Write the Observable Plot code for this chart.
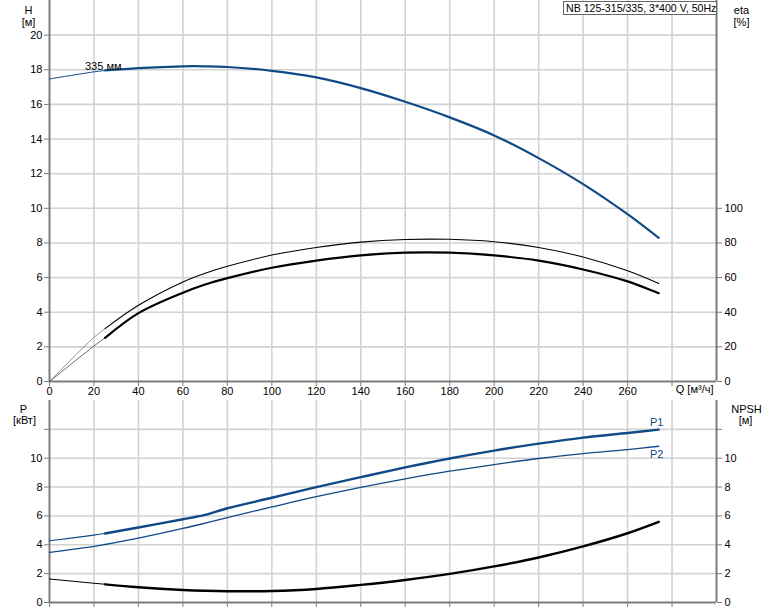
<!DOCTYPE html>
<html>
<head>
<meta charset="utf-8">
<script src="https://cdn.jsdelivr.net/npm/d3@7"></script>
<script src="https://cdn.jsdelivr.net/npm/@observablehq/plot@0.6"></script>
<style>
  html, body { margin: 0; padding: 0; background: #fff; }
  #wrap { position: relative; width: 774px; font-family: "Liberation Sans", Arial, sans-serif; }
  #wrap svg { display: block; }
  #legend {
    position: absolute; left: 563px; top: 1px; width: 150px; height: 12px;
    border: 1px solid #666; background: #fff; font-size: 10.6px; line-height: 12px;
    padding: 0 0 0 2px; white-space: nowrap; color: #000;
  }
</style>
</head>
<body>
<div id="wrap"></div>
<script>
// ---- data ----
const qValues   = [0, 20, 25, 40, 60, 70, 80, 100, 120, 140, 160, 180, 200, 220, 240, 260, 274];
const headH     = [17.47, 17.88, 17.96, 18.1, 18.2, 18.2, 18.16, 17.94, 17.56, 16.94, 16.15, 15.25, 14.21, 12.9, 11.4, 9.66, 8.29];
const etaPump   = [0, 25.5, 30.5, 44, 57.5, 62.5, 66.5, 73, 77.4, 80.5, 82, 82.1, 80.7, 77.4, 71.9, 63.9, 56.6];
const etaTotal  = [0, 20.5, 25.2, 39.5, 51.3, 56, 59.7, 65.7, 69.8, 72.8, 74.4, 74.4, 72.8, 69.8, 64.7, 57.8, 51];
const powerP1   = [4.28, 4.67, 4.78, 5.2, 5.77, 6.07, 6.53, 7.26, 8.0, 8.69, 9.36, 9.98, 10.53, 11.01, 11.43, 11.75, 11.98];
const powerP2   = [3.47, 3.89, 4.02, 4.46, 5.13, 5.5, 5.89, 6.62, 7.33, 7.98, 8.57, 9.1, 9.56, 9.98, 10.32, 10.6, 10.83];
const npshValues= [1.63, 1.33, 1.26, 1.06, 0.87, 0.81, 0.78, 0.8, 0.94, 1.22, 1.56, 1.98, 2.5, 3.12, 3.89, 4.8, 5.59];

const qTicks   = [0, 20, 40, 60, 80, 100, 120, 140, 160, 180, 200, 220, 240, 260, 280];
const hTicks   = [0, 2, 4, 6, 8, 10, 12, 14, 16, 18, 20];
const etaTicks = [0, 20, 40, 60, 80, 100];
const pTicks   = [0, 2, 4, 6, 8, 10, 12];
const pLabeled = [0, 2, 4, 6, 8, 10];

const title = "NB 125-315/335, 3*400 V, 50Hz";
const curveLabel = "335 мм";

// ---- build rows ----
const rows = qValues.map((q, i) => ({
  q, h: headH[i], ep: etaPump[i], et: etaTotal[i],
  p1: powerP1[i], p2: powerP2[i], npsh: npshValues[i]
}));
const thin = rows.slice(0, 3);
const thick = rows.slice(2);
const last = rows[rows.length - 1];

const BLUE = "#0f4a87";
const GRID = "#d2d2d2";
const AXIS = "#7c7c7c";
const font = "'Liberation Sans', Arial, sans-serif";
const curve = "catmull-rom";

const gridX = d3.range(20, 300, 20);

const topPlot = Plot.plot({
  width: 774, height: 400,
  marginLeft: 49, marginRight: 58, marginTop: 0, marginBottom: 19,
  x: {domain: [0, 300]},
  y: {domain: [0, 22]},
  style: {fontFamily: font, fontSize: "11px", color: "#000", background: "#fff", overflow: "visible"},
  marks: [
    Plot.gridX(gridX, {stroke: GRID, strokeOpacity: 1, strokeWidth: 1.6}),
    Plot.gridY(d3.range(2, 22, 2), {stroke: GRID, strokeOpacity: 1, strokeWidth: 1.6}),
    Plot.ruleY([0], {stroke: AXIS, strokeWidth: 2}),
    Plot.ruleX([0], {stroke: AXIS, strokeWidth: 2}),
    Plot.ruleX([300], {stroke: AXIS, strokeWidth: 2}),
    Plot.axisX({ticks: qTicks, tickSize: 5, tickPadding: 1, stroke: AXIS,
      tickFormat: d => d === 280 ? "" : String(d), label: null}),
    Plot.axisY({anchor: "left", ticks: hTicks, tickSize: 5, tickPadding: 2, stroke: AXIS, label: null}),
    Plot.axisY({anchor: "right", ticks: etaTicks.map(e => e / 10), tickSize: 5, tickPadding: 3, stroke: AXIS,
      tickFormat: d => String(Math.round(d * 10)), label: null}),
    // eta curves (plotted in H units: eta/10)
    Plot.line(thin, {x: "q", y: d => d.ep / 10, stroke: "#666", strokeWidth: 0.7, curve}),
    Plot.line(thin, {x: "q", y: d => d.et / 10, stroke: "#555", strokeWidth: 0.9, curve}),
    Plot.line(thick, {x: "q", y: d => d.ep / 10, stroke: "#000", strokeWidth: 1.1, curve}),
    Plot.line(thick, {x: "q", y: d => d.et / 10, stroke: "#000", strokeWidth: 2.2, curve}),
    // head curve
    Plot.line(thin, {x: "q", y: "h", stroke: BLUE, strokeWidth: 1, curve}),
    Plot.line(thick, {x: "q", y: "h", stroke: BLUE, strokeWidth: 2.2, curve}),
    Plot.text([curveLabel], {x: () => qValues[1], y: () => headH[1], text: d => d,
      textAnchor: "start", dx: -9, dy: -5, fill: "#000", fontSize: 11}),
    // axis titles
    Plot.text(["H"], {frameAnchor: "top-left", dx: -21, dy: 6, textAnchor: "middle", fill: "#000", fontSize: 11}),
    Plot.text(["[м]"], {frameAnchor: "top-left", dx: -21, dy: 17.5, textAnchor: "middle", fill: "#000", fontSize: 11}),
    Plot.text(["eta"], {frameAnchor: "top-right", dx: 25, dy: 6, textAnchor: "middle", fill: "#000", fontSize: 11}),
    Plot.text(["[%]"], {frameAnchor: "top-right", dx: 25, dy: 17.5, textAnchor: "middle", fill: "#000", fontSize: 11}),
    Plot.text(["Q [м³/ч]"], {frameAnchor: "bottom-right", dx: -3, dy: 11, textAnchor: "end", fill: "#000", fontSize: 11})
  ]
});

const botPlot = Plot.plot({
  width: 774, height: 211,
  marginLeft: 49, marginRight: 58, marginTop: 0, marginBottom: 9,
  x: {domain: [0, 300]},
  y: {domain: [0, 14]},
  style: {fontFamily: font, fontSize: "11px", color: "#000", background: "#fff", overflow: "visible"},
  marks: [
    Plot.gridX(gridX, {stroke: GRID, strokeOpacity: 1, strokeWidth: 1.6}),
    Plot.gridY(d3.range(2, 14, 2), {stroke: GRID, strokeOpacity: 1, strokeWidth: 1.6}),
    Plot.ruleY([0], {stroke: AXIS, strokeWidth: 2}),
    Plot.ruleX([0], {stroke: AXIS, strokeWidth: 2}),
    Plot.ruleX([300], {stroke: AXIS, strokeWidth: 2}),
    Plot.axisX({ticks: qTicks, tickSize: 5, stroke: AXIS, tickFormat: () => "", label: null}),
    Plot.axisY({anchor: "left", ticks: pTicks, tickSize: 5, tickPadding: 2, stroke: AXIS,
      tickFormat: d => pLabeled.includes(d) ? String(d) : "", label: null}),
    Plot.axisY({anchor: "right", ticks: pTicks, tickSize: 5, tickPadding: 3, stroke: AXIS,
      tickFormat: d => pLabeled.includes(d) ? String(d) : "", label: null}),
    // NPSH
    Plot.line(thin, {x: "q", y: "npsh", stroke: "#000", strokeWidth: 1.1, curve}),
    Plot.line(thick, {x: "q", y: "npsh", stroke: "#000", strokeWidth: 2.4, curve}),
    // P2
    Plot.line(rows, {x: "q", y: "p2", stroke: BLUE, strokeWidth: 1.3, curve}),
    // P1
    Plot.line(thin, {x: "q", y: "p1", stroke: BLUE, strokeWidth: 1.2, curve}),
    Plot.line(thick, {x: "q", y: "p1", stroke: BLUE, strokeWidth: 2.4, curve}),
    Plot.text(["P1"], {x: () => last.q, y: () => last.p1, text: d => d, dx: -2, dy: -7, fill: BLUE, fontSize: 11}),
    Plot.text(["P2"], {x: () => last.q, y: () => last.p2, text: d => d, dx: -2, dy: 8, fill: BLUE, fontSize: 11}),
    // axis titles
    Plot.text(["P"], {frameAnchor: "top-left", dx: -26, dy: 4.5, textAnchor: "middle", fill: "#000", fontSize: 11}),
    Plot.text(["[кВт]"], {frameAnchor: "top-left", dx: -25, dy: 16, textAnchor: "middle", fill: "#000", fontSize: 11}),
    Plot.text(["NPSH"], {frameAnchor: "top-right", dx: 30, dy: 4.5, textAnchor: "middle", fill: "#000", fontSize: 11}),
    Plot.text(["[м]"], {frameAnchor: "top-right", dx: 29, dy: 16, textAnchor: "middle", fill: "#000", fontSize: 11})
  ]
});

const wrap = document.getElementById("wrap");
wrap.appendChild(topPlot);
wrap.appendChild(botPlot);
const lg = document.createElement("div");
lg.id = "legend";
lg.textContent = title;
wrap.appendChild(lg);
</script>
</body>
</html>
